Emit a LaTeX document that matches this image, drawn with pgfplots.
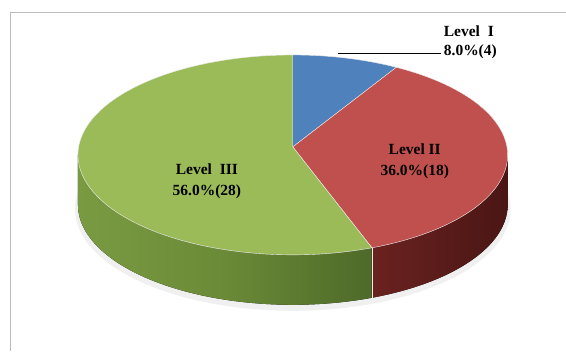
\documentclass[border=0pt]{standalone}
\usepackage{fontspec}
\setmainfont{Liberation Serif}
\usepackage{pgfplots}
\pgfplotsset{compat=1.18}
\definecolor{cBlue}{HTML}{4F81BD}
\definecolor{cRed}{HTML}{C0504D}
\definecolor{cGreen}{HTML}{9BBB59}
\definecolor{sGreenL}{HTML}{7A9A42}
\definecolor{sGreenM}{HTML}{6B8A37}
\definecolor{sGreenR}{HTML}{4E6A29}
\definecolor{sRedL}{HTML}{6A2220}
\definecolor{sRedR}{HTML}{4A1614}
\definecolor{frameC}{HTML}{BBBBBB}
\begin{document}
\begin{tikzpicture}
% data: percentage and count per level
\def\pA{8.0}\def\nA{4}
\def\pB{36.0}\def\nB{18}
\def\pC{56.0}\def\nC{28}
\pgfmathsetmacro\aA{90}
\pgfmathsetmacro\aB{\aA-3.6*\pA}
\pgfmathsetmacro\aC{\aB-3.6*\pB}
\pgfmathsetmacro\aD{\aC-3.6*\pC}
\pgfmathsetmacro\sC{360+\aC}
\def\cx{293}\def\cy{196}\def\rx{215}\def\ry{100}
\def\vx{293}\def\vy{204}\def\dep{50}
\begin{axis}[x=1pt,y=1pt,xmin=0,xmax=566,ymin=0,ymax=351,
  hide axis,clip=false,anchor=origin,at={(0,0)}]
\fill[white] (axis cs:0,0) rectangle (axis cs:566,351);
\draw[frameC,line width=0.8pt] (axis cs:10,0) -- (axis cs:10,339) -- (axis cs:566,339);
% soft shadow
\fill[black,opacity=0.06] (axis cs:{\cx},{\cy-\dep-4}) ellipse [x radius=218pt,y radius=102pt];
% side walls
\fill[left color=sGreenL,right color=sGreenR,middle color=sGreenM]
  (axis cs:{\cx+\rx*cos(180)},{\cy+\ry*sin(180)})
  arc[start angle=180,end angle=\sC,x radius=\rx pt,y radius=\ry pt]
  -- ++(0,-\dep pt)
  arc[start angle=\sC,end angle=180,x radius=\rx pt,y radius=\ry pt] -- cycle;
\fill[left color=sRedL,right color=sRedR]
  (axis cs:{\cx+\rx*cos(\sC)},{\cy+\ry*sin(\sC)})
  arc[start angle=\sC,end angle=360,x radius=\rx pt,y radius=\ry pt]
  -- ++(0,-\dep pt)
  arc[start angle=360,end angle=\sC,x radius=\rx pt,y radius=\ry pt] -- cycle;
\draw[white!85!gray,line width=0.5pt]
  (axis cs:{\cx+\rx*cos(\sC)},{\cy+\ry*sin(\sC)}) -- ++(0,-\dep pt);
% top faces
\filldraw[fill=cBlue,draw=white!85!gray,line width=0.4pt]
  (axis cs:\vx,\vy) -- (axis cs:{\cx+\rx*cos(\aA)},{\cy+\ry*sin(\aA)})
  arc[start angle=\aA,end angle=\aB,x radius=\rx pt,y radius=\ry pt] -- cycle;
\filldraw[fill=cRed,draw=white!85!gray,line width=0.4pt]
  (axis cs:\vx,\vy) -- (axis cs:{\cx+\rx*cos(\aB)},{\cy+\ry*sin(\aB)})
  arc[start angle=\aB,end angle=\aC,x radius=\rx pt,y radius=\ry pt] -- cycle;
\filldraw[fill=cGreen,draw=white!85!gray,line width=0.4pt]
  (axis cs:\vx,\vy) -- (axis cs:{\cx+\rx*cos(\aC)},{\cy+\ry*sin(\aC)})
  arc[start angle=\aC,end angle=\aD,x radius=\rx pt,y radius=\ry pt] -- cycle;
% labels
\draw[black,line width=0.6pt] (axis cs:338,298) -- (axis cs:441,298);
\node[anchor=west,align=left,inner sep=0pt,font=\bfseries\fontsize{15.5}{19}\selectfont]
  at (axis cs:444,309) {Level\ \ I\\\pA\%(\nA)};
\node[align=center,inner sep=0pt,font=\bfseries\fontsize{15.5}{21}\selectfont]
  at (axis cs:415,190) {Level II\\\pB\%(\nB)};
\node[align=center,inner sep=0pt,font=\bfseries\fontsize{15.5}{21}\selectfont]
  at (axis cs:207,170) {Level\ \ III\\\pC\%(\nC)};
\end{axis}
\end{tikzpicture}
\end{document}
